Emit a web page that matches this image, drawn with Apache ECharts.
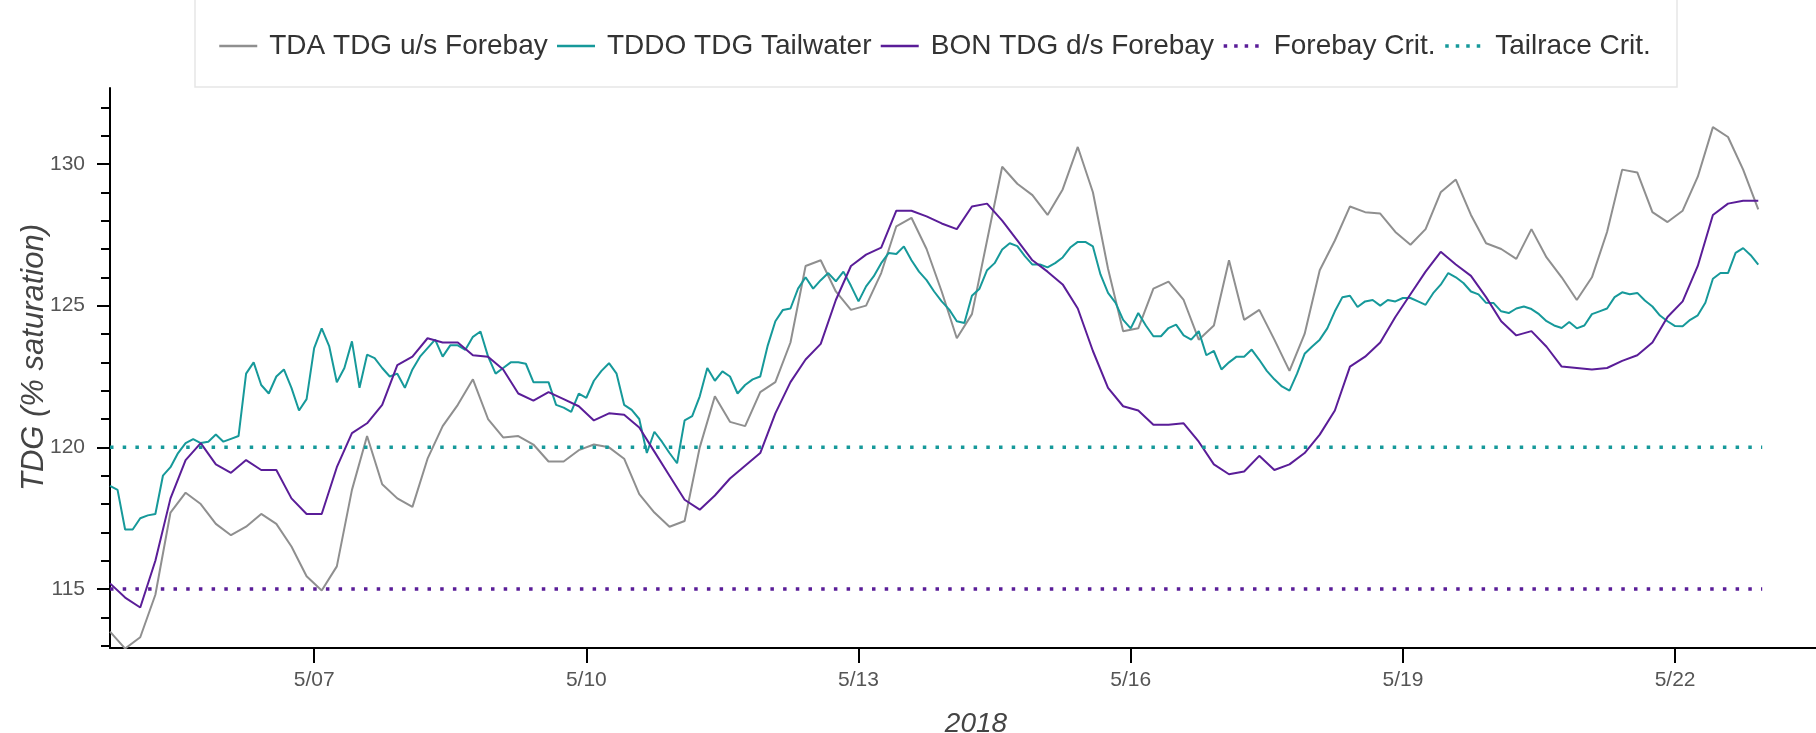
<!DOCTYPE html>
<html>
<head>
<meta charset="utf-8">
<title>TDG 2018</title>
<script src="https://cdn.jsdelivr.net/npm/echarts@6.0.0/dist/echarts.min.js"></script>
<style>
	html, body { margin: 0; padding: 0; background: #fff; }
	#tdg { width: 1816px; height: 733px; }
</style>
</head>
<body>
<div id="tdg"></div>
<script>
// 时间轴: 5月的日期(小数)
var startDay = 4.75;
var step4h = 1 / 6;
var step2h = 1 / 12;

// TDA TDG u/s Forebay (每4小时)
var tdaForebay = [113.5,112.9,113.3,114.8,117.7,118.4,118.0,117.3,116.9,117.2,
	117.65,117.3,116.5,115.45,114.95,115.8,118.5,120.4,118.7,118.2,
	117.9,119.6,120.75,121.5,122.4,121.0,120.35,120.4,120.1,119.5,
	119.5,119.9,120.1,120.0,119.6,118.35,117.7,117.2,117.4,120.0,
	121.8,120.9,120.75,121.95,122.3,123.7,126.4,126.6,125.5,124.85,
	125.0,126.15,127.8,128.1,127.0,125.5,123.85,124.7,127.3,129.9,
	129.3,128.9,128.2,129.1,130.6,129.0,126.3,124.1,124.2,125.6,
	125.85,125.2,123.8,124.3,126.6,124.5,124.85,123.8,122.7,124.0,
	126.25,127.3,128.5,128.3,128.25,127.6,127.15,127.7,129.0,129.45,
	128.2,127.2,127.0,126.65,127.7,126.7,126.0,125.2,126.0,127.6,
	129.8,129.7,128.3,127.95,128.35,129.55,131.3,130.95,129.8,128.4];

// TDDO TDG Tailwater (每2小时)
var tddoTailwater = [118.64,118.5,117.1,117.1,117.5,117.6,117.65,119.0,119.3,119.8,
	120.15,120.29,120.15,120.2,120.45,120.2,120.3,120.4,122.6,123.0,
	122.2,121.9,122.5,122.75,122.1,121.3,121.7,123.5,124.2,123.56,
	122.3,122.8,123.74,122.1,123.27,123.15,122.8,122.5,122.6,122.1,
	122.75,123.2,123.5,123.8,123.2,123.6,123.6,123.44,123.9,124.09,
	123.21,122.6,122.8,123.0,123.0,122.95,122.3,122.3,122.3,121.5,
	121.4,121.25,121.9,121.75,122.35,122.7,122.97,122.6,121.5,121.32,
	121.0,119.8,120.55,120.2,119.8,119.44,120.95,121.1,121.8,122.8,
	122.35,122.68,122.5,121.9,122.2,122.4,122.5,123.6,124.45,124.85,
	124.9,125.6,126.0,125.6,125.9,126.15,125.86,126.2,125.7,125.15,
	125.68,126.03,126.5,126.86,126.82,127.09,126.6,126.2,125.9,125.5,
	125.15,124.86,124.45,124.39,125.35,125.6,126.25,126.5,126.98,127.2,
	127.1,126.75,126.45,126.45,126.35,126.5,126.7,127.05,127.25,127.25,
	127.09,126.1,125.45,125.1,124.5,124.2,124.74,124.3,123.92,123.92,
	124.21,124.33,123.95,123.8,124.1,123.25,123.4,122.75,123.0,123.2,
	123.2,123.45,123.09,122.7,122.4,122.15,122.0,122.6,123.3,123.56,
	123.8,124.2,124.8,125.3,125.35,124.95,125.15,125.2,125.0,125.2,
	125.15,125.27,125.27,125.15,125.03,125.44,125.74,126.15,126.0,125.8,
	125.5,125.4,125.1,125.09,124.8,124.74,124.9,124.97,124.88,124.7,
	124.45,124.3,124.21,124.42,124.2,124.3,124.7,124.8,124.9,125.3,
	125.47,125.4,125.45,125.18,124.97,124.65,124.45,124.28,124.27,124.5,
	124.66,125.1,125.95,126.15,126.15,126.86,127.03,126.78,126.45];

// BON TDG d/s Forebay (每4小时)
var bonForebay = [115.2,114.7,114.35,116.0,118.2,119.55,120.15,119.4,119.1,119.55,
	119.2,119.2,118.2,117.65,117.65,119.3,120.5,120.85,121.5,122.9,
	123.2,123.85,123.7,123.7,123.25,123.2,122.75,121.9,121.65,121.95,
	121.7,121.45,120.95,121.2,121.15,120.7,119.85,119.0,118.15,117.8,
	118.3,118.9,119.35,119.8,121.2,122.3,123.1,123.65,125.2,126.4,
	126.8,127.05,128.35,128.35,128.15,127.9,127.7,128.5,128.6,128.0,
	127.3,126.6,126.2,125.75,124.9,123.4,122.1,121.45,121.3,120.8,
	120.8,120.85,120.2,119.4,119.05,119.15,119.7,119.2,119.4,119.8,
	120.45,121.3,122.85,123.2,123.7,124.6,125.4,126.2,126.9,126.45,
	126.05,125.3,124.45,123.95,124.1,123.55,122.85,122.8,122.75,122.8,
	123.05,123.25,123.7,124.6,125.15,126.4,128.2,128.6,128.7,128.7];

// 标准线
var forebayCrit = 115;
var tailraceCrit = 120;
var critDays = [4.75, 22.96];

// 刻度
var xTickDays = [7, 10, 13, 16, 19, 22];
var yTickValues = [115, 120, 125, 130];
var yMinorTicks = [113, 114, 116, 117, 118, 119, 121, 122, 123, 124, 126, 127, 128, 129, 131, 132];

var seriesNames = ['TDA TDG u/s Forebay', 'TDDO TDG Tailwater', 'BON TDG d/s Forebay', 'Forebay Crit.', 'Tailrace Crit.'];

var gray = '#8f8f8f';
var teal = '#16999a';
var purple = '#5a1d98';
var font = 'Liberation Sans, Arial, sans-serif';

/**
 * 把数组转成 [日期, 值]
 */
function toPairs(values, step) {
	var out = [];
	for (var i = 0; i < values.length; i++) {
		out.push([startDay + i * step, values[i]]);
	}
	return out;
}

function critLine(v) {
	return [[critDays[0], v], [critDays[1], v]];
}

/**
 * 图例项: 实线 / 点线
 */
function legendItem(name, dotted) {
	return {
		name : name,
		lineStyle : dotted ? { width : 3.5, type : [3.5, 7], cap : 'butt' } : { width : 2.5, type : 'solid' }
	};
}

var chart = echarts.init(document.getElementById('tdg'));

var option = {
	animation : false,
	backgroundColor : '#fff',
	textStyle : { fontFamily : font },
	graphic : [ {
		type : 'rect',
		shape : { x : 195, y : -2, width : 1482, height : 89 },
		style : { fill : 'none', stroke : '#e6e6e6', lineWidth : 1.5 },
		silent : true
	} ],
	legend : {
		data : [
			legendItem(seriesNames[0], false),
			legendItem(seriesNames[1], false),
			legendItem(seriesNames[2], false),
			legendItem(seriesNames[3], true),
			legendItem(seriesNames[4], true)
		],
		left : 218,
		top : 32,
		padding : 0,
		itemGap : 8,
		itemWidth : 38,
		itemHeight : 14,
		// 只画线, 不画圆点
		itemStyle : { color : 'rgba(0,0,0,0)', borderColor : 'rgba(0,0,0,0)', borderWidth : 0 },
		textStyle : { fontSize : 28, color : '#333', fontFamily : font, padding : [0, 0, 0, 7] }
	},
	grid : { left : 110, right : 0, top : 88, bottom : 85, containLabel : false, outerBoundsMode : 'none' },
	xAxis : {
		type : 'value',
		min : 4.75,
		max : 23.553,
		name : '2018',
		nameLocation : 'middle',
		nameGap : 62,
		nameMoveOverlap : false,
		nameTextStyle : { fontSize : 28, fontStyle : 'italic', color : '#444', fontFamily : font, padding : [0, 0, 0, 26] },
		axisLine : { lineStyle : { color : '#000', width : 2 } },
		axisTick : { customValues : xTickDays, length : 15, lineStyle : { color : '#000', width : 2 } },
		axisLabel : {
			customValues : xTickDays,
			margin : 22,
			fontSize : 21,
			color : '#555',
			formatter : function(v) {
				return '5/' + (v < 10 ? '0' : '') + v;
			}
		},
		splitLine : { show : false }
	},
	yAxis : [ {
		type : 'value',
		min : 112.92,
		max : 132.68,
		name : 'TDG (% saturation)',
		nameLocation : 'middle',
		nameGap : 60,
		nameMoveOverlap : false,
		nameTextStyle : { fontSize : 31, fontStyle : 'italic', color : '#444', fontFamily : font, padding : [0, 0, 0, 21] },
		axisLine : { show : true, lineStyle : { color : '#000', width : 2 } },
		axisTick : { customValues : yTickValues, length : 13, lineStyle : { color : '#000', width : 2 } },
		axisLabel : { customValues : yTickValues, margin : 25, fontSize : 21, color : '#555' },
		splitLine : { show : false }
	}, {
		// 次刻度
		type : 'value',
		min : 112.92,
		max : 132.68,
		position : 'left',
		axisLine : { show : false },
		axisTick : { customValues : yMinorTicks, length : 9, lineStyle : { color : '#000', width : 2 } },
		axisLabel : { show : false },
		splitLine : { show : false }
	} ],
	series : [ {
		name : seriesNames[0],
		type : 'line',
		data : toPairs(tdaForebay, step4h),
		symbol : 'none',
		color : gray,
		lineStyle : { color : gray, width : 2 }
	}, {
		name : seriesNames[1],
		type : 'line',
		data : toPairs(tddoTailwater, step2h),
		symbol : 'none',
		color : teal,
		lineStyle : { color : teal, width : 2 }
	}, {
		name : seriesNames[2],
		type : 'line',
		data : toPairs(bonForebay, step4h),
		symbol : 'none',
		color : purple,
		lineStyle : { color : purple, width : 2 }
	}, {
		name : seriesNames[3],
		type : 'line',
		data : critLine(forebayCrit),
		symbol : 'none',
		color : purple,
		lineStyle : { color : purple, width : 3.5, type : [3.5, 9.2] }
	}, {
		name : seriesNames[4],
		type : 'line',
		data : critLine(tailraceCrit),
		symbol : 'none',
		color : teal,
		lineStyle : { color : teal, width : 3.5, type : [3.5, 9.2] }
	} ]
};

chart.setOption(option);
</script>
</body>
</html>
